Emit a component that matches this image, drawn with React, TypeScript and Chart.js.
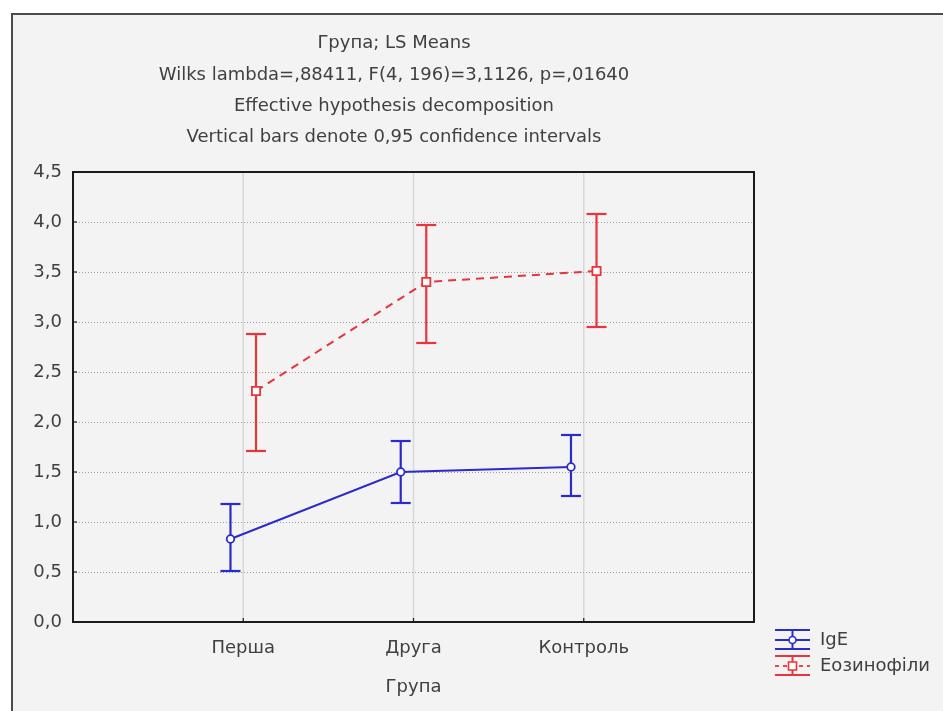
import React, { useEffect, useRef } from 'react';
import { Chart, registerables } from 'chart.js';

Chart.register(...registerables);

// ---- Data ----
const categories = ['Перша', 'Друга', 'Контроль'];
const seriesNames = ['IgE', 'Еозинофіли'];
const igeMean = [0.83, 1.5, 1.55];
const igeLower = [0.51, 1.19, 1.26];
const igeUpper = [1.18, 1.81, 1.87];
const eosMean = [2.31, 3.4, 3.51];
const eosLower = [1.71, 2.79, 2.95];
const eosUpper = [2.88, 3.97, 4.08];
const yTickValues = [0, 0.5, 1, 1.5, 2, 2.5, 3, 3.5, 4, 4.5];
const titleLines = [
  'Група; LS Means',
  'Wilks lambda=,88411, F(4, 196)=3,1126, p=,01640',
  'Effective hypothesis decomposition',
  'Vertical bars denote 0,95 confidence intervals',
];
const xAxisTitle = 'Група';

// ---- Styles ----
const FONT = '"DejaVu Sans", sans-serif';
const FONT_SIZE = 18;
const TEXT = '#404040';
const BLUE = '#2b2bcc';
const RED = '#e8343c';
const dodge = [-0.075, 0.075];

const series = [
  { name: seriesNames[0], mean: igeMean, lower: igeLower, upper: igeUpper, color: BLUE, dodge: dodge[0] },
  { name: seriesNames[1], mean: eosMean, lower: eosLower, upper: eosUpper, color: RED, dodge: dodge[1] },
];

const fmt = (v: number) => v.toFixed(1).replace('.', ',');

function line(ctx: CanvasRenderingContext2D, x1: number, y1: number, x2: number, y2: number) {
  ctx.beginPath();
  ctx.moveTo(x1, y1);
  ctx.lineTo(x2, y2);
  ctx.stroke();
}

const decorPlugin = {
  id: 'decor',
  beforeDraw(chart: any) {
    const ctx = chart.ctx as CanvasRenderingContext2D;
    const { width, height } = chart;
    ctx.save();
    ctx.fillStyle = '#ffffff';
    ctx.fillRect(0, 0, width, height);
    ctx.fillStyle = '#f3f3f3';
    ctx.fillRect(12, 14, width - 12, height - 14);
    ctx.strokeStyle = '#4a4a4a';
    ctx.lineWidth = 2;
    ctx.beginPath();
    ctx.moveTo(12, height);
    ctx.lineTo(12, 14);
    ctx.lineTo(width, 14);
    ctx.stroke();
    ctx.restore();
  },
  beforeDatasetsDraw(chart: any) {
    const ctx = chart.ctx as CanvasRenderingContext2D;
    const { left, right, top, bottom } = chart.chartArea;
    const xs = chart.scales.x;
    const ys = chart.scales.y;
    ctx.save();
    // vertical grid
    ctx.strokeStyle = '#d8d8d8';
    ctx.lineWidth = 1.5;
    categories.forEach((_, i) => {
      const px = xs.getPixelForValue(i + 1);
      line(ctx, px, top, px, bottom);
    });
    // horizontal grid (dotted)
    ctx.setLineDash([1, 2]);
    ctx.strokeStyle = '#a0a0a0';
    ctx.lineWidth = 1;
    yTickValues.forEach((v) => {
      if (v <= 0 || v >= 4.5) return;
      const py = Math.round(ys.getPixelForValue(v)) + 0.5;
      line(ctx, left, py, right, py);
    });
    ctx.setLineDash([]);
    // error bars
    series.forEach((s) => {
      ctx.strokeStyle = s.color;
      ctx.lineWidth = 2.2;
      s.mean.forEach((_, i) => {
        const px = xs.getPixelForValue(i + 1 + s.dodge);
        const pu = ys.getPixelForValue(s.upper[i]);
        const pl = ys.getPixelForValue(s.lower[i]);
        line(ctx, px, pu, px, pl);
        line(ctx, px - 10, pu, px + 10, pu);
        line(ctx, px - 10, pl, px + 10, pl);
      });
    });
    ctx.restore();
  },
  afterDatasetsDraw(chart: any) {
    const ctx = chart.ctx as CanvasRenderingContext2D;
    const { left, right, top, bottom } = chart.chartArea;
    const xs = chart.scales.x;
    const ys = chart.scales.y;
    ctx.save();
    ctx.strokeStyle = '#1a1a1a';
    ctx.lineWidth = 2;
    ctx.strokeRect(left, top, right - left, bottom - top);
    ctx.lineWidth = 1.2;
    yTickValues.forEach((v) => {
      const py = ys.getPixelForValue(v);
      line(ctx, left, py, left + 4, py);
    });
    categories.forEach((_, i) => {
      const px = xs.getPixelForValue(i + 1);
      line(ctx, px, bottom, px, bottom - 4);
    });
    ctx.restore();
  },
  afterDraw(chart: any) {
    const ctx = chart.ctx as CanvasRenderingContext2D;
    const { left, right, bottom } = chart.chartArea;
    ctx.save();
    ctx.fillStyle = TEXT;
    ctx.font = `${FONT_SIZE}px ${FONT}`;
    ctx.textAlign = 'center';
    ctx.textBaseline = 'middle';
    const titleY = [43, 75, 106, 137];
    titleLines.forEach((t, i) => ctx.fillText(t, 394, titleY[i]));
    ctx.fillText(xAxisTitle, (left + right) / 2, bottom + 65);

    // legend
    const lx = 775;
    const lw = 35;
    const rows = [640, 666];
    series.forEach((s, k) => {
      const cy = rows[k];
      const cx = lx + lw / 2;
      ctx.strokeStyle = s.color;
      ctx.lineWidth = 2;
      line(ctx, lx, cy - 10, lx + lw, cy - 10);
      line(ctx, lx, cy + 9, lx + lw, cy + 9);
      line(ctx, cx, cy - 10, cx, cy + 9);
      if (k === 1) ctx.setLineDash([4, 4]);
      ctx.lineWidth = 1.8;
      line(ctx, lx, cy, lx + lw, cy);
      ctx.setLineDash([]);
      ctx.fillStyle = '#ffffff';
      ctx.lineWidth = 1.6;
      ctx.beginPath();
      if (k === 0) ctx.arc(cx, cy, 3.5, 0, Math.PI * 2);
      else ctx.rect(cx - 4, cy - 4, 8, 8);
      ctx.fill();
      ctx.stroke();
      ctx.fillStyle = TEXT;
      ctx.textAlign = 'left';
      ctx.fillText(s.name, lx + 45, cy);
    });
    ctx.restore();
  },
};

export default function App() {
  const ref = useRef<HTMLCanvasElement | null>(null);

  useEffect(() => {
    if (!ref.current) return;
    const chart = new Chart(ref.current, {
      type: 'scatter',
      data: {
        datasets: series.map((s, k) => ({
          label: s.name,
          data: categories.map((_, i) => ({ x: i + 1 + s.dodge, y: s.mean[i] })),
          showLine: true,
          borderColor: s.color,
          borderWidth: 2,
          borderDash: k === 1 ? [8, 6] : [],
          pointStyle: k === 0 ? 'circle' : 'rect',
          pointRadius: k === 0 ? 3.8 : 5.8,
          pointBackgroundColor: '#ffffff',
          pointBorderColor: s.color,
          pointBorderWidth: 1.8,
          fill: false,
          tension: 0,
        })),
      },
      options: {
        responsive: false,
        animation: false,
        layout: { padding: { left: 0, top: 172, right: 189, bottom: 0 } },
        plugins: {
          legend: { display: false },
          title: { display: false },
          tooltip: { enabled: false },
        },
        scales: {
          x: {
            type: 'linear',
            min: 0,
            max: 4,
            afterBuildTicks: (s: any) => {
              s.ticks = categories.map((_, i) => ({ value: i + 1 }));
            },
            ticks: {
              callback: (v: any) => categories[Number(v) - 1] ?? '',
              font: { family: FONT, size: FONT_SIZE },
              color: TEXT,
              padding: 16,
              maxRotation: 0,
              autoSkip: false,
            },
            grid: { display: false, drawTicks: false },
            border: { display: false },
            afterFit: (s: any) => {
              s.height = 89;
            },
          },
          y: {
            type: 'linear',
            min: 0,
            max: 4.5,
            afterBuildTicks: (s: any) => {
              s.ticks = yTickValues.map((v) => ({ value: v }));
            },
            ticks: {
              callback: (v: any) => fmt(Number(v)),
              font: { family: FONT, size: FONT_SIZE },
              color: TEXT,
              padding: 11,
            },
            grid: { display: false, drawTicks: false },
            border: { display: false },
            afterFit: (s: any) => {
              s.width = 73;
            },
          },
        },
      },
      plugins: [decorPlugin],
    });
    return () => chart.destroy();
  }, []);

  return (
    <div style={{ position: 'absolute', left: 0, top: 0, width: 943, height: 711 }}>
      <canvas ref={ref} width={943} height={711} style={{ display: 'block' }} />
    </div>
  );
}
